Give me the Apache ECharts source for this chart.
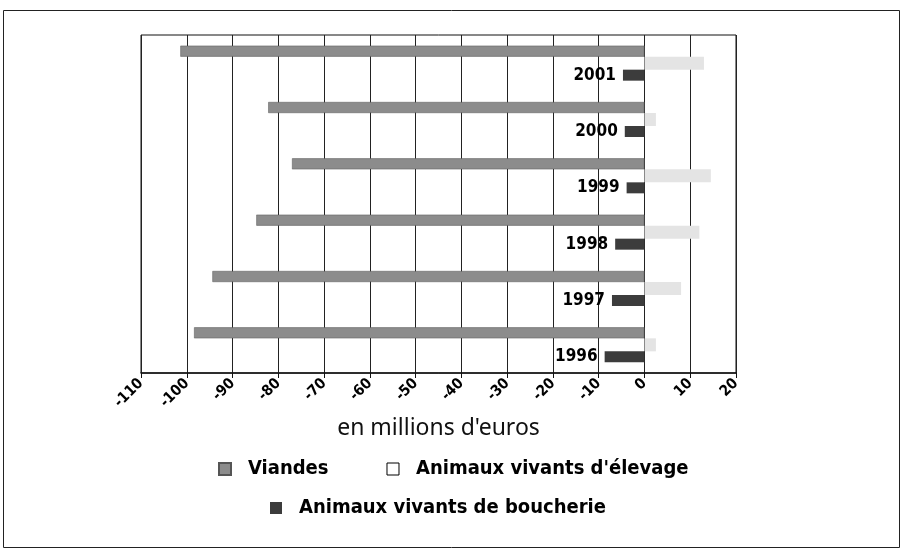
<!DOCTYPE html>
<html>
<head>
<meta charset="utf-8">
<script src="https://cdn.jsdelivr.net/npm/echarts@6/dist/echarts.min.js"></script>
<style>
  html, body { margin: 0; padding: 0; background: #fff; }
  #chart { width: 904px; height: 552px; }
</style>
</head>
<body>
<div id="chart"></div>
<script>
// années (du bas vers le haut)
var years = ['1996', '1997', '1998', '1999', '2000', '2001'];
// valeurs en millions d'euros
var viandes = [-98.4, -94.4, -84.8, -77, -82.2, -101.4];
var elevage = [2.5, 8, 12, 14.5, 2.5, 13];
var boucherie = [-8.7, -7.1, -6.4, -3.9, -4.3, -4.7];

var fontCond = 'DejaVu Sans Condensed';

var chart = echarts.init(document.getElementById('chart'));

var legendText = { fontFamily: fontCond, fontWeight: 'bold', fontSize: 20, color: '#000', padding: [0, 0, 0, 12] };

var option = {
    animation: false,
    backgroundColor: '#fff',
    graphic: [{
        type: 'rect',
        shape: { x: 3.5, y: 10.5, width: 896, height: 537 },
        style: { fill: 'none', stroke: '#222', lineWidth: 1 }
    }],
    grid: {
        left: 141, right: 168, top: 35, bottom: 179,
        show: true, borderColor: '#111', borderWidth: 1
    },
    legend: [{
        top: 454,
        left: 213,
        icon: 'rect',
        itemWidth: 12, itemHeight: 12,
        itemGap: 58,
        textStyle: legendText,
        data: [
            { name: 'Viandes' },
            { name: "Animaux vivants d'élevage", itemStyle: { color: '#fff', borderColor: '#000', borderWidth: 1 } }
        ]
    }, {
        top: 493,
        left: 265,
        icon: 'rect',
        itemWidth: 12, itemHeight: 12,
        textStyle: legendText,
        data: ['Animaux vivants de boucherie']
    }],
    xAxis: {
        type: 'value',
        min: -110, max: 20, interval: 10,
        name: "en millions d'euros",
        nameLocation: 'middle',
        nameGap: 36,
        nameTextStyle: { fontFamily: 'Noto Sans', fontSize: 23, color: '#111' },
        axisLine: { show: true, lineStyle: { color: '#111', width: 1.5 } },
        axisTick: { show: true, length: 5, lineStyle: { color: '#111' } },
        splitLine: { show: true, lineStyle: { color: '#222', width: 1 } },
        axisLabel: {
            rotate: 45,
            margin: 8,
            fontFamily: fontCond, fontWeight: 'bold', fontSize: 15, color: '#000'
        }
    },
    yAxis: {
        type: 'category',
        data: years,
        axisLine: { show: false },
        axisTick: { show: false },
        axisLabel: { show: false },
        splitLine: { show: false }
    },
    series: [{
        name: 'Viandes',
        type: 'bar',
        data: viandes,
        barWidth: 11,
        barGap: '0%',
        itemStyle: { color: '#8c8c8c', borderColor: '#555', borderWidth: 0.5 }
    }, {
        name: "Animaux vivants d'élevage",
        type: 'bar',
        data: elevage,
        barWidth: 13,
        barGap: '0%',
        itemStyle: { color: '#e4e4e4' }
    }, {
        name: 'Animaux vivants de boucherie',
        type: 'bar',
        data: boucherie,
        barWidth: 11,
        barGap: '0%',
        itemStyle: { color: '#3c3c3c' },
        label: {
            show: true,
            position: 'left',
            distance: 7,
            formatter: function (p) { return p.name; },
            fontFamily: fontCond, fontWeight: 'bold', fontSize: 17, color: '#000'
        }
    }]
};

chart.setOption(option);
</script>
</body>
</html>
